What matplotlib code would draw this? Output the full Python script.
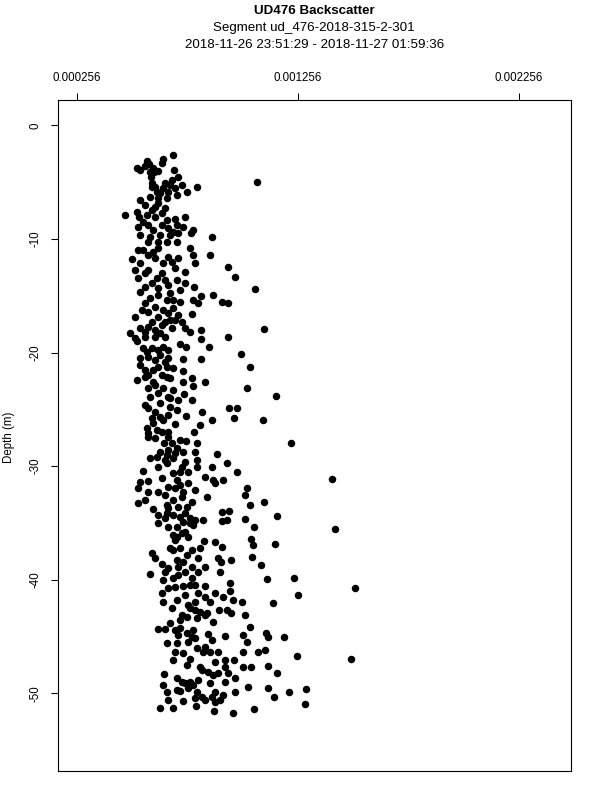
import numpy as np
import matplotlib
matplotlib.use("Agg")
import matplotlib.pyplot as plt

plt.rcParams['font.family'] = ['Liberation Sans', 'DejaVu Sans']

# Backscatter values in units of 1e-4, depth in metres (negative = below surface)
bs_band1 = [6.93,6.48,6.40,5.75,5.85,5.27,5.42,5.65,6.07,6.25,6.98,7.16,6.86,6.56,5.92,5.98,6.10,7.99,7.31,7.54,
            7.01,6.71,6.33,5.88,6.25,6.63,5.42,5.65,6.10,6.56,4.74,5.27,5.38,5.72,6.40,6.63,7.01,7.46,7.08,7.39,
            5.35,5.80,6.40,7.84,7.73,5.42,5.88,6.33,6.78,7.16,8.67,5.80,6.25,6.63,7.08,10.74,6.03,
            5.88,5.95,6.18,6.48,6.78,7.08,6.25,5.95,5.57,6.10,6.71,6.93,6.03]
depth_band1 = [-2.61,-2.96,-3.34,-3.11,-3.43,-3.78,-3.93,-3.58,-4.07,-4.02,-3.93,-4.51,-4.81,-5.10,-4.51,-5.10,-5.39,-5.39,-5.25,-5.83,
               -5.54,-5.83,-5.98,-6.27,-6.42,-6.42,-6.56,-7.00,-7.15,-7.30,-7.88,-7.59,-8.03,-7.88,-7.74,-8.32,-8.23,-8.03,-8.76,-8.91,
               -8.91,-8.76,-8.76,-9.20,-9.50,-9.64,-9.79,-9.64,-9.64,-9.50,-9.85,-10.23,-10.23,-10.23,-10.23,-4.95,-3.78,
               -4.07,-5.39,-5.83,-5.54,-5.25,-6.13,-6.86,-7.44,-8.47,-8.03,-9.06,-9.35,-9.20]

bs_band2 = [7.69,5.05,5.80,5.57,6.03,6.71,7.16,7.84,8.59,5.42,6.48,6.86,7.01,7.91,7.46,6.40,9.39,9.73,5.35,5.65,
            5.80,6.56,7.08,7.46,5.95,6.25,5.42,6.71,6.78,7.23,7.87,10.63,8.19,8.71,7.84,8.07,9.12,9.42,5.88,5.65,
            6.25,7.23,6.93,6.48,5.50,5.80,7.76,5.20,6.25,6.71,5.95,6.56,7.01,7.31,5.42,6.40,7.46,8.19,11.05,4.97,
            5.65,6.10,6.86,7.69,5.20,5.65,6.10,6.56,8.19,9.39,
            5.35,6.25,6.10,5.20,6.18,5.65,6.93,6.63,6.10,6.78,7.16,5.80,6.33]
depth_band2 = [-10.83,-11.80,-11.42,-10.98,-11.13,-11.57,-11.71,-11.42,-11.42,-12.15,-12.15,-12.00,-12.59,-12.09,-12.88,-13.03,-12.44,-13.32,-13.47,-13.03,
               -12.74,-13.62,-13.62,-13.91,-13.91,-14.35,-14.64,-14.06,-14.79,-14.50,-14.26,-14.44,-15.02,-14.93,-15.37,-15.67,-15.52,-15.67,-15.23,-15.67,
               -14.93,-15.52,-16.11,-16.25,-16.25,-16.40,-16.60,-16.90,-16.84,-16.55,-17.28,-17.28,-17.13,-17.28,-17.86,-17.57,-17.86,-18.01,-17.95,-18.30,
               -18.16,-18.01,-17.86,-18.16,-18.74,-18.60,-18.60,-18.60,-18.80,-18.66,
               -10.98,-10.83,-11.71,-12.74,-13.47,-14.20,-15.37,-15.37,-15.96,-17.13,-16.69,-17.72,-18.30]

bs_band3 = [5.27,8.55,7.23,7.51,5.57,5.95,6.25,6.71,5.42,5.80,6.33,6.71,7.39,8.19,10.00,10.41,5.42,6.03,6.63,6.93,
            7.39,5.27,5.65,5.80,6.40,6.78,7.39,7.76,7.84,8.37,10.25,6.10,6.48,6.93,5.88,6.25,6.71,7.43,11.57,7.79,
            7.16,6.33,5.65,6.78,7.08,5.80,8.25,7.49,9.45,9.80,6.33,6.71,8.67,9.70,11.01,6.03,7.01,8.14,5.72,6.18,
            6.71,7.88,5.80,
            5.72,6.48,6.10,6.56,5.65,6.25,6.63,6.03,5.80,6.78,6.10,6.48,5.95,6.40]
depth_band3 = [-18.99,-19.49,-19.28,-19.54,-19.63,-19.63,-19.78,-19.78,-20.51,-20.36,-20.22,-20.51,-20.57,-20.57,-20.16,-21.30,-21.10,-21.54,-21.24,-21.39,
               -21.62,-22.42,-22.12,-21.98,-21.98,-22.27,-22.56,-22.27,-22.91,-22.56,-23.09,-22.86,-23.15,-23.29,-23.88,-23.59,-23.88,-23.68,-23.82,-24.17,
               -24.17,-24.47,-24.61,-24.76,-25.05,-24.91,-25.26,-25.55,-24.85,-24.91,-25.64,-25.49,-25.93,-25.79,-25.93,-26.22,-26.31,-26.37,-26.66,-26.81,
               -26.96,-26.96,-27.10,
               -19.93,-19.49,-20.66,-20.80,-21.54,-21.24,-22.12,-22.56,-23.15,-24.03,-25.20,-25.93,-25.79,-26.96]

bs_band4 = [5.80,6.10,12.25,6.52,6.86,7.23,7.51,7.99,6.33,6.71,7.01,7.39,7.91,8.90,5.88,6.18,6.56,6.93,7.46,7.99,
            9.35,8.70,5.57,6.25,6.63,6.93,7.23,7.61,7.99,9.80,8.37,8.74,9.20,8.82,5.42,5.80,6.40,7.23,7.61,14.11,
            5.35,5.80,6.25,7.01,7.39,7.91,10.25,10.18,5.65,5.35,6.56,6.93,7.76,8.44,11.05,10.41,6.71,6.03,7.16,7.54,
            9.12,9.45,11.61,6.25,6.63,7.23,7.69,8.29,7.91,9.12,9.35,10.18,7.39,6.25,6.71,7.08,7.84,10.59,14.23,
            6.71,7.08,6.63,7.31,7.08,6.71,7.31,6.63,6.93,7.46,6.56,7.69]
depth_band4 = [-27.41,-27.55,-27.99,-27.99,-27.93,-27.70,-27.76,-27.93,-28.72,-28.58,-28.87,-28.72,-28.72,-28.93,-29.31,-29.16,-29.46,-29.31,-29.60,-29.46,
               -29.75,-30.10,-30.39,-30.04,-29.75,-30.63,-30.48,-30.54,-30.04,-30.48,-30.92,-31.22,-31.22,-31.51,-31.36,-31.27,-31.07,-31.65,-31.51,-31.16,
               -31.95,-32.24,-32.24,-31.95,-32.24,-32.09,-31.95,-32.53,-32.97,-33.21,-32.53,-32.97,-33.12,-32.68,-33.12,-33.41,-33.71,-33.79,-33.62,-33.56,
               -34.00,-33.94,-34.35,-34.29,-34.15,-34.50,-34.58,-34.73,-34.73,-34.79,-34.73,-34.67,-34.88,-35.02,-35.38,-35.38,-35.17,-35.32,-35.52,
               -27.41,-28.43,-29.02,-30.04,-31.22,-31.80,-32.68,-33.41,-34.29,-34.15,-34.58,-35.02]

bs_band5 = [6.93,7.31,7.61,7.01,8.34,8.82,9.12,10.45,10.53,11.54,6.78,7.23,7.76,8.14,5.98,6.10,7.54,8.07,7.08,8.97,
            9.09,9.53,10.48,6.40,7.16,7.76,8.37,7.46,8.03,10.89,5.88,6.56,6.93,7.76,9.05,6.48,7.39,7.91,8.37,9.50,
            11.19,12.40,15.16,7.01,6.71,6.40,7.46,8.07,8.37,8.82,9.20,9.50,12.56,7.08,6.48,7.91,8.59,9.65,10.03,11.46,
            6.86,7.69,8.14,9.00,9.35,9.54,8.44,7.31,10.18,6.78,7.23,7.99,8.74,
            7.08,7.46,6.93,7.39,6.71,7.16,7.69,7.61,7.91,7.54,8.37]
depth_band5 = [-36.06,-35.91,-36.21,-36.50,-36.56,-36.70,-37.08,-36.41,-36.94,-36.88,-37.23,-37.17,-37.38,-37.23,-37.67,-38.11,-37.82,-38.11,-38.26,-38.11,
               -38.40,-38.23,-38.02,-38.64,-38.84,-38.84,-38.84,-39.28,-39.28,-38.70,-39.52,-39.28,-39.87,-39.87,-39.28,-40.01,-40.54,-40.45,-40.51,-40.31,
               -39.96,-39.87,-40.69,-40.60,-40.75,-41.19,-41.33,-41.19,-41.48,-41.19,-41.48,-40.98,-41.36,-41.77,-41.98,-41.92,-41.98,-41.77,-41.92,-42.07,
               -42.51,-42.51,-42.80,-42.65,-42.65,-42.94,-42.94,-43.09,-43.15,-43.82,-43.53,-43.38,-43.68,
               -36.21,-35.77,-37.38,-38.40,-38.99,-39.58,-40.45,-42.21,-42.65,-43.24,-43.09]

bs_band6 = [6.22,6.56,7.01,7.16,7.84,7.54,10.41,8.52,8.67,9.27,10.10,10.25,11.12,11.24,11.96,6.63,7.08,7.61,7.91,7.99,
            8.37,8.59,8.97,7.01,7.39,10.10,10.78,11.09,12.52,14.98,6.93,7.69,7.54,8.14,8.52,8.82,9.27,9.27,9.70,10.10,
            10.44,11.24,6.51,7.08,7.31,7.69,8.07,8.59,8.97,9.42,9.73,9.27,11.64,6.48,6.63,7.23,7.61,7.99,8.82,9.20,
            9.73,10.30,11.24,12.17,12.93,11.51,6.68,7.39,7.91,8.37,9.05,8.67,6.93,6.33,7.96,8.79,9.62,10.59,12.87,
            7.23,7.76,8.29,8.22,8.74,7.46,7.84,8.22,8.82,7.08]
depth_band6 = [-44.37,-44.37,-44.43,-44.87,-44.43,-44.72,-44.19,-44.78,-45.31,-44.96,-44.87,-45.45,-44.72,-45.07,-45.02,-45.54,-45.60,-45.45,-45.16,-46.04,
               -45.89,-46.33,-46.33,-46.33,-46.42,-46.33,-46.39,-46.19,-46.71,-47.01,-47.07,-47.01,-47.51,-47.65,-48.09,-47.21,-47.07,-47.65,-47.07,-47.65,
               -47.65,-47.56,-48.30,-48.68,-48.97,-48.97,-48.82,-49.12,-48.24,-48.24,-48.68,-48.97,-48.24,-49.26,-49.85,-49.79,-49.56,-49.85,-49.85,-50.14,
               -49.85,-49.47,-49.56,-49.91,-49.62,-50.35,-50.58,-50.67,-50.44,-50.58,-50.58,-50.35,-51.31,-51.31,-51.11,-51.52,-51.70,-51.34,-50.96,
               -44.28,-45.02,-46.33,-47.95,-48.38,-49.12,-49.26,-50.29,-50.73,-49.70]

x_ticks = [0.000256, 0.001256, 0.002256]
x_tick_labels = ["0.000256", "0.001256", "0.002256"]
y_ticks = [0, -10, -20, -30, -40, -50]
y_tick_labels = ["0", "-10", "-20", "-30", "-40", "-50"]
title_lines = ["UD476 Backscatter", "Segment ud_476-2018-315-2-301",
               "2018-11-26 23:51:29 - 2018-11-27 01:59:36"]

bs = np.concatenate([bs_band1, bs_band2, bs_band3, bs_band4, bs_band5, bs_band6]) * 1e-4
depth = np.concatenate([depth_band1, depth_band2, depth_band3, depth_band4, depth_band5, depth_band6])

fig = plt.figure(figsize=(6, 8), dpi=100)
ax = fig.add_axes([57.5/600, 1 - 771/800, (571 - 57.5)/600, (771 - 100)/800])
ax.plot(bs, depth, linestyle='none', marker='o', color='black', markersize=5.4,
        markeredgewidth=0)

ax.set_xlim(0.0001691, 0.002493)
ax.set_ylim(-56.84, 2.23)

ax.xaxis.tick_top()
ax.set_xticks(x_ticks)
ax.set_xticklabels(x_tick_labels)
ax.set_yticks(y_ticks)
ax.set_yticklabels(y_tick_labels, rotation=90, va='center')
ax.tick_params(axis='both', direction='out', length=5, width=0.75, labelsize=8.3,
               color='black', labelcolor='black')
ax.tick_params(axis='x', pad=6.5)
ax.tick_params(axis='y', pad=6.8)
for s in ax.spines.values():
    s.set_linewidth(0.8)
    s.set_color('black')

fig.text(9/600, 1 - 437/800, "Depth (m)", rotation=90, ha='center', va='center', fontsize=8.3)

cx = (57.5 + 571) / 2 / 600
fig.text(cx, 1 - 11/800, title_lines[0], ha='center', va='center', fontsize=9.6, fontweight='bold')
fig.text(cx, 1 - 28/800, title_lines[1], ha='center', va='center', fontsize=9.6)
fig.text(cx, 1 - 45/800, title_lines[2], ha='center', va='center', fontsize=9.6)

fig.savefig("out.png", dpi=100)
